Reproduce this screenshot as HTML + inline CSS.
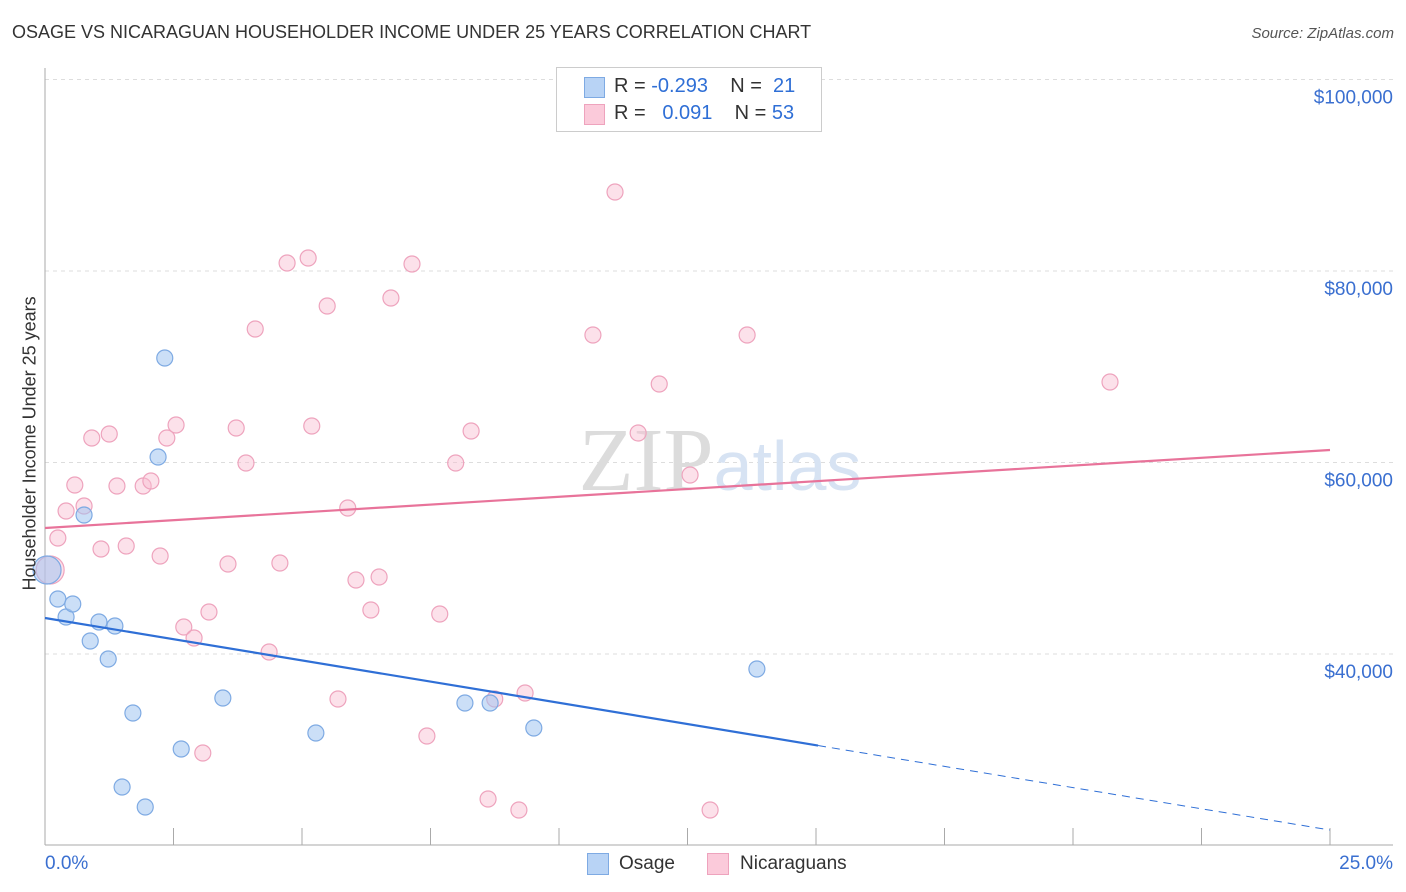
<!DOCTYPE html>
<html><head><meta charset="utf-8"><style>
body{margin:0;background:#fff;font-family:"Liberation Sans",sans-serif;}
#wrap{position:relative;width:1406px;height:892px;overflow:hidden;}
.t{position:absolute;white-space:nowrap;}
</style></head><body>
<div id="wrap">
<div class="t" style="left:12px;top:22px;font-size:18px;color:#333;">OSAGE VS NICARAGUAN HOUSEHOLDER INCOME UNDER 25 YEARS CORRELATION CHART</div>
<div class="t" style="right:12px;top:25px;font-size:15px;color:#555;font-style:italic;">Source: ZipAtlas.com</div>
<svg id="svg" width="1406" height="892" style="position:absolute;left:0;top:0"></svg>
</div>
<script>
const yTicks=[40000,60000,80000,100000];
const yTickLabels=["$40,000","$60,000","$80,000","$100,000"];
const osageX=[0.04,0.25,0.41,0.54,0.76,0.88,1.05,1.23,1.36,1.71,1.50,1.95,2.20,2.33,2.65,3.46,5.27,8.17,8.66,9.51,13.85];
const osageY=[48773,45744,43864,45222,54517,41358,43342,39478,42924,33838,26109,24020,60575,70914,30078,35405,31749,34883,34883,32272,38433];
const nicX=[0.10,0.25,0.41,0.58,0.76,0.91,1.09,1.25,1.40,1.58,1.91,2.06,2.24,2.37,2.55,2.70,2.90,3.19,3.07,3.56,3.72,3.91,4.09,4.36,4.57,4.71,5.12,5.19,5.49,5.70,5.89,6.05,6.34,6.50,6.73,7.14,7.43,7.68,7.99,8.29,8.62,8.75,9.22,9.34,10.66,11.09,11.54,11.95,12.55,12.94,13.66,20.72];
const nicY=[48773,52115,54935,57650,55457,62559,50966,62977,57546,51280,57546,58068,50235,62559,63917,42820,41671,44386,29660,49400,63603,59948,73943,40209,49504,80836,81358,63812,76345,35300,55248,47729,44595,48042,77180,80732,31436,44177,59948,63290,24856,35300,23707,35927,73316,88251,63081,68198,58695,23707,73316,68407];
const osageTrend=[43760,21619];
const nicTrend=[53160,61306];
const osageSolidEnd=15.04;

const NS="http://www.w3.org/2000/svg";
const svg=document.getElementById('svg');
const X=p=>45+p/25*1285;
const Y=v=>654-(v-40000)*191.5/20000;
function mk(tag,attrs){const e=document.createElementNS(NS,tag);for(const k in attrs)e.setAttribute(k,attrs[k]);svg.appendChild(e);return e;}
// gridlines
yTicks.forEach((v,i)=>{
 const g=mk('line',{x1:45,x2:1393,y1:Y(v),y2:Y(v),stroke:'#ddd','stroke-dasharray':'4,4'});
 
 
 const t=mk('text',{x:1393,y:Y(v)+24,'text-anchor':'end','font-size':19,fill:'#3a6fd0','font-family':'Liberation Sans'});
 t.textContent=yTickLabels[i];
 
 
});
// axes
const ax=mk('line',{x1:45,x2:1393,y1:845,y2:845,stroke:'#aaa'});


const ay=mk('line',{x1:45,x2:45,y1:68,y2:845,stroke:'#aaa'});


for(let i=1;i<=10;i++){const tk=mk('line',{x1:X(i*2.5),x2:X(i*2.5),y1:828,y2:845,stroke:'#aaa'});
 
 }
// watermark
const wm=mk('text',{x:720,y:490,'text-anchor':'middle','font-size':90,fill:'#e6e6e6','font-family':'Liberation Serif'});
wm.innerHTML='<tspan fill="#dcdcdc">ZIP</tspan><tspan fill="#d7e3f3" font-family="Liberation Sans" font-size="70">atlas</tspan>';


// points
function pts(xs,ys,fill,stroke,name){xs.forEach((x,i)=>{const r=i===0?14:8;
 const c=mk('circle',{cx:X(x),cy:Y(ys[i]),r:r,fill:fill,stroke:stroke,'stroke-width':1.2});
 
 });}
pts(nicX,nicY,'rgba(248,188,208,0.45)','#eea3bd','nicaraguan-point');
pts(osageX,osageY,'rgba(160,196,240,0.55)','#7eaae3','osage-point');
// trends
const pl=mk('line',{x1:X(0),y1:Y(nicTrend[0]),x2:X(25),y2:Y(nicTrend[1]),stroke:'#e8739a','stroke-width':2.2});


const by=v=>osageTrend[0]+(osageTrend[1]-osageTrend[0])*v/25;
const bl=mk('line',{x1:X(0),y1:Y(osageTrend[0]),x2:X(osageSolidEnd),y2:Y(by(osageSolidEnd)),stroke:'#2f6fd6','stroke-width':2.2});


const bd=mk('line',{x1:X(osageSolidEnd),y1:Y(by(osageSolidEnd)),x2:X(25),y2:Y(osageTrend[1]),stroke:'#2f6fd6','stroke-width':1,'stroke-dasharray':'8,6'});


</script>
<div class="t" style="left:45px;top:853px;font-size:19px;color:#3a6fd0;">0.0%</div>
<div class="t" style="right:13px;top:853px;font-size:19px;color:#3a6fd0;">25.0%</div>
<div class="t" style="left:-105px;top:445px;font-size:18px;color:#333;transform:rotate(-90deg);width:270px;text-align:center;">Householder Income Under 25 years</div>
<div style="position:absolute;left:556px;top:67px;width:264px;height:63px;border:1px solid #ccc;background:#fff;font-size:20px;color:#333;">
 <div style="position:absolute;left:27px;top:9px;width:19px;height:19px;background:#b8d3f5;border:1px solid #7eaae3;"></div>
 <div class="t" style="left:57px;top:7px;">R = <span style="color:#2f6fd6">-0.293</span>&nbsp;&nbsp;&nbsp; N = &nbsp;<span style="color:#2f6fd6">21</span></div>
 <div style="position:absolute;left:27px;top:36px;width:19px;height:19px;background:#fbcada;border:1px solid #eea3bd;"></div>
 <div class="t" style="left:57px;top:34px;">R = &nbsp;&nbsp;<span style="color:#2f6fd6">0.091</span>&nbsp;&nbsp;&nbsp; N = <span style="color:#2f6fd6">53</span></div>
</div>
<div style="position:absolute;left:587px;top:853px;font-size:19px;color:#333;">
 <div style="position:absolute;left:0;top:0;width:20px;height:20px;background:#b8d3f5;border:1px solid #7eaae3;"></div>
 <div class="t" style="left:32px;top:0;">Osage</div>
 <div style="position:absolute;left:120px;top:0;width:20px;height:20px;background:#fbcada;border:1px solid #eea3bd;"></div>
 <div class="t" style="left:153px;top:0;">Nicaraguans</div>
</div>
</body></html>
